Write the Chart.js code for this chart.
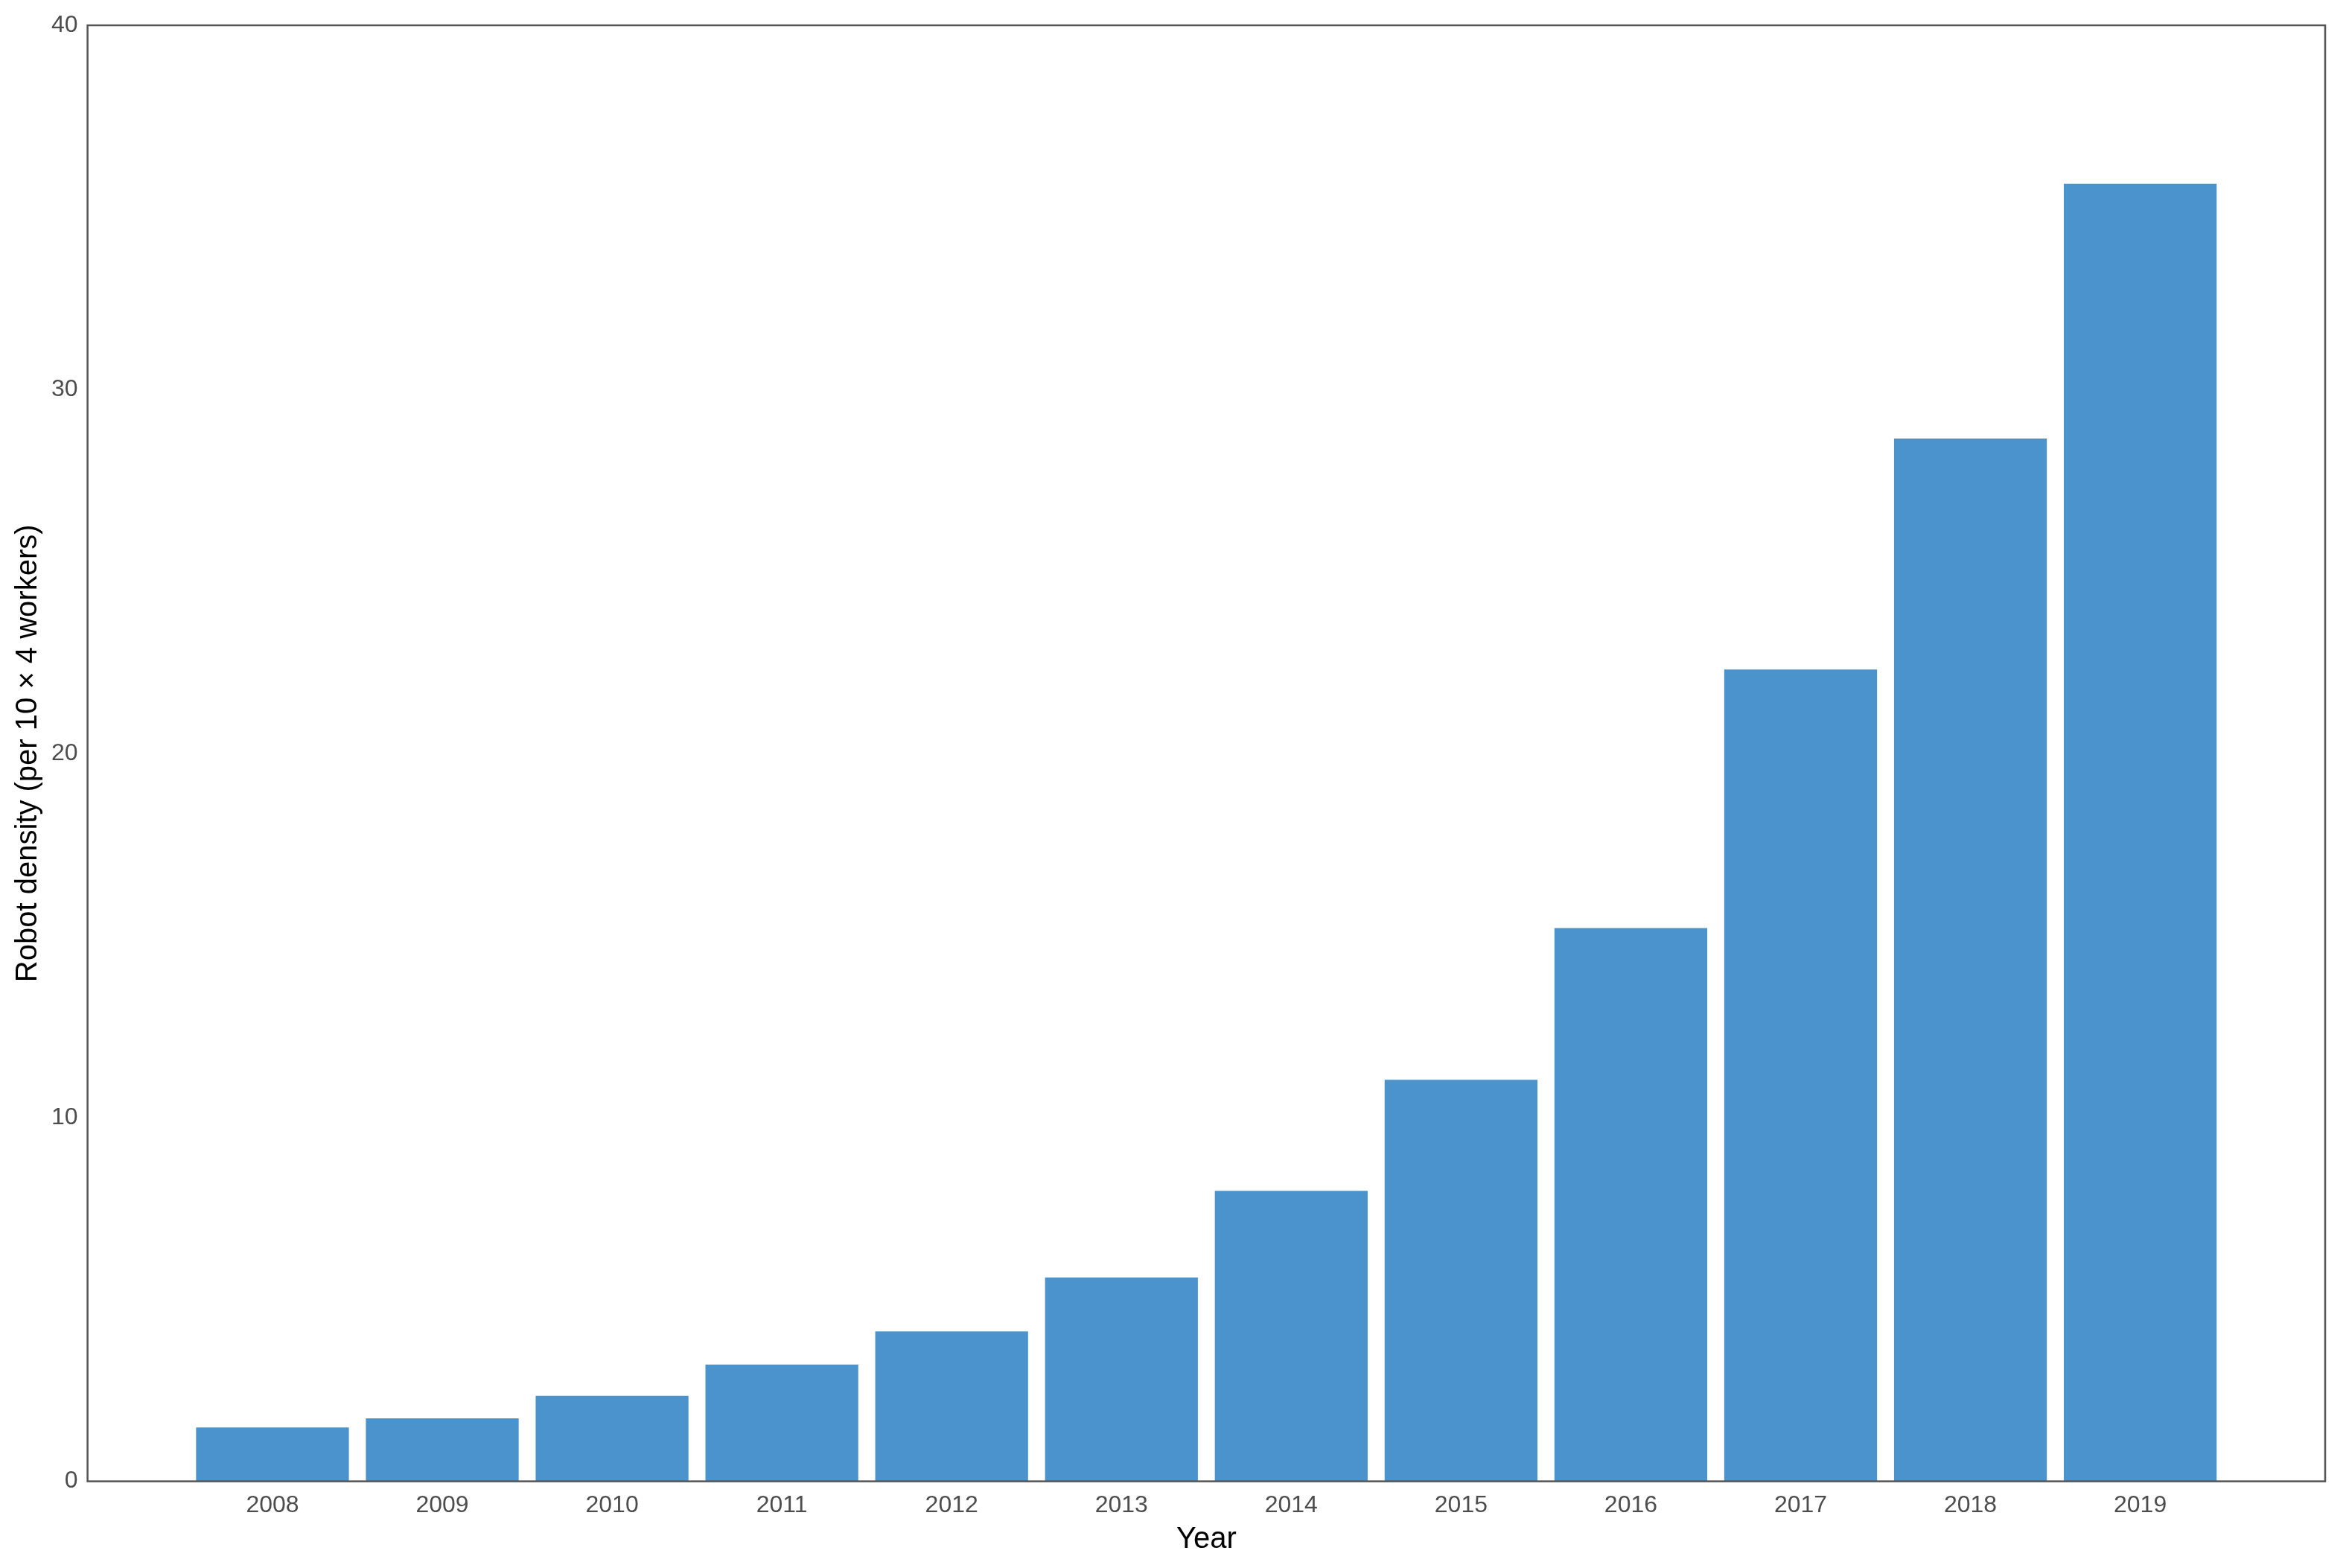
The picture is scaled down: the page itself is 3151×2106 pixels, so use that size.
<!DOCTYPE html>
<html>
<head>
<meta charset="utf-8">
<script src="https://cdn.jsdelivr.net/npm/chart.js@4"></script>
<style>
  html, body { margin: 0; padding: 0; background: #fff; }
  #wrap { width: 3151px; height: 2106px; }
</style>
</head>
<body>
<div id="wrap"><canvas id="chart" width="3151" height="2106"></canvas></div>
<script>
const years = [2008, 2009, 2010, 2011, 2012, 2013, 2014, 2015, 2016, 2017, 2018, 2019];
const density = [1.48, 1.73, 2.35, 3.21, 4.12, 5.6, 7.98, 11.03, 15.2, 22.3, 28.65, 35.65];
const yTicks = [0, 10, 20, 30, 40];

// draws the full panel border like ggplot's theme_bw
const frame = {
  id: 'frame',
  afterDraw(chart) {
    const { ctx, chartArea: a } = chart;
    ctx.save();
    ctx.strokeStyle = '#555';
    ctx.lineWidth = 2.5;
    ctx.strokeRect(a.left, a.top, a.right - a.left, a.bottom - a.top);
    ctx.restore();
  }
};

new Chart(document.getElementById('chart'), {
  type: 'bar',
  data: {
    datasets: [{
      data: years.map((y, i) => ({ x: y, y: density[i] })),
      backgroundColor: '#4a93cc',
      categoryPercentage: 1,
      barPercentage: 0.9
    }]
  },
  options: {
    responsive: false,
    animation: false,
    layout: { padding: { top: 34, right: 28, left: 10, bottom: 10 } },
    plugins: { legend: { display: false }, tooltip: { enabled: false } },
    scales: {
      x: {
        type: 'linear',
        min: 2007.46,
        max: 2019.54,
        afterBuildTicks: s => { s.ticks = years.map(v => ({ value: v })); },
        ticks: { color: '#4d4d4d', font: { family: 'Liberation Sans', size: 32 }, callback: v => String(v) },
        grid: { display: false, drawTicks: true, tickLength: 10, color: '#555' },
        border: { display: false },
        title: { display: true, text: 'Year', color: '#000', font: { family: 'Liberation Sans', size: 40 }, padding: { top: 0 } }
      },
      y: {
        min: 0,
        max: 40,
        afterBuildTicks: s => { s.ticks = yTicks.map(v => ({ value: v })); },
        ticks: { color: '#4d4d4d', font: { family: 'Liberation Sans', size: 32 } },
        grid: { display: false, tickLength: 10, color: '#555' },
        border: { display: false },
        title: { display: true, text: 'Robot density (per 10 × 4 workers)', color: '#000', font: { family: 'Liberation Sans', size: 40 } }
      }
    }
  },
  plugins: [frame]
});
</script>
</body>
</html>
